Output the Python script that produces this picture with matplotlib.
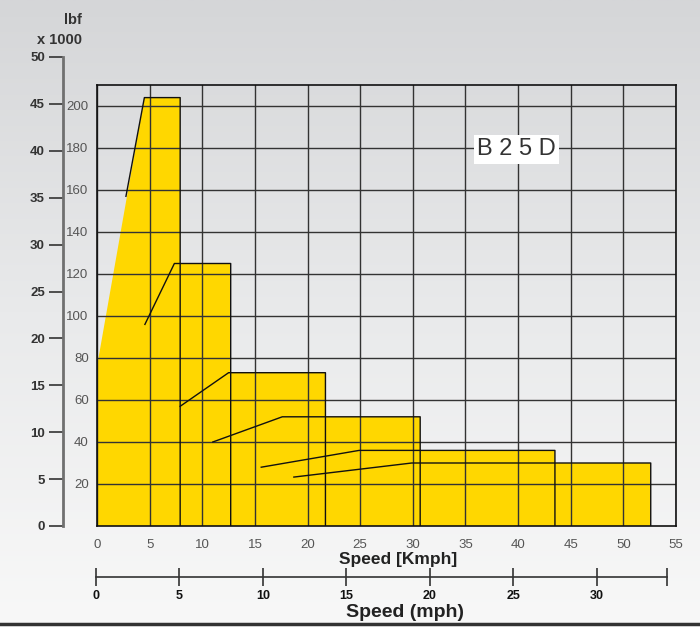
import numpy as np
import matplotlib.pyplot as plt
from matplotlib.lines import Line2D

W, H = 700, 641

# tractive effort per gear, kN against speed in km/h
gear_start_x = [2.75, 4.55, 7.9, 11.0, 15.6, 18.7]
gear_start_y = [157, 96, 57, 40, 28, 23.3]
gear_corner_x = [4.5, 7.35, 12.5, 17.6, 24.9, 29.9]
gear_top = [204, 125, 73, 52, 36, 30]
gear_end_x = [7.9, 12.7, 21.7, 30.7, 43.5, 52.6]
fill_axis_y = 76   # where the yellow area meets the y axis

kmph_ticks = list(range(0, 56, 5))
kn_ticks = list(range(20, 201, 20))
klbf_ticks = list(range(0, 51, 5))
mph_ticks = list(range(0, 31, 5))
mph_max = 34.2

yellow = '#ffd700'
narrow = ['Liberation Sans Narrow', 'Liberation Sans', 'DejaVu Sans']
plt.rcParams['font.family'] = ['Liberation Sans', 'DejaVu Sans']


def fx(px):
    return px / W


def fy(py):
    return 1 - py / H


fig = plt.figure(figsize=(W / 100, H / 100), dpi=100)

# background gradient
bg = fig.add_axes([0, 0, 1, 1], zorder=-10)
grad = np.linspace(0, 1, 256).reshape(-1, 1)
bg.imshow(grad, cmap=plt.matplotlib.colors.LinearSegmentedColormap.from_list(
    'bg', ['#d5d6d8', '#e9eaeb', '#f8f8f8']), aspect='auto',
    extent=[0, 1, fy(624), 1])
bg.set_xlim(0, 1)
bg.set_ylim(0, 1)
bg.axis('off')
fig.add_artist(Line2D([0, 1], [fy(624), fy(624)], transform=fig.transFigure,
                      color='#333333', lw=2.5))

# main chart (kN / km/h)
ax = fig.add_axes([fx(97), fy(526), fx(676 - 97), (526 - 85) / H])
ax.patch.set_alpha(0)
ax.set_xlim(0, 55)
ax.set_ylim(0, 210)

# yellow envelope
px = [0, 0]
py = [0, fill_axis_y]
for i in range(len(gear_top)):
    if i == 0:
        px += [gear_corner_x[i], gear_end_x[i]]
    else:
        px += [gear_end_x[i - 1], gear_end_x[i]]
    py += [gear_top[i], gear_top[i]]
px += [gear_end_x[-1]]
py += [0]
ax.fill(px, py, color=yellow, lw=0, zorder=1)

ax.set_xticks(kmph_ticks)
ax.set_yticks(kn_ticks)
ax.grid(True, color='#333333', lw=1.0, zorder=2)
ax.set_axisbelow(False)

for i in range(len(gear_top)):
    ax.plot([gear_start_x[i], gear_corner_x[i], gear_end_x[i], gear_end_x[i]],
            [gear_start_y[i], gear_top[i], gear_top[i], 0],
            color='#111111', lw=1.0, zorder=3)

for s in ax.spines.values():
    s.set_color('#111111')
    s.set_linewidth(1.2)
    s.set_zorder(4)
ax.tick_params(length=0, labelsize=9.5, colors='#555555')
ax.tick_params(axis='x', pad=9)
ax.tick_params(axis='y', pad=6)
for lab in ax.get_xticklabels() + ax.get_yticklabels():
    lab.set_family(narrow)
ax.set_xlabel('Speed [Kmph]', fontsize=12.5, color='#222222',
              weight='bold')
ax.xaxis.set_label_coords(fx(398.5), fy(552), transform=fig.transFigure)

ax.text(39.85, 179.3, 'B 2 5 D', ha='center', va='center', fontsize=17,
        color='#333333', zorder=5,
        bbox=dict(fc='white', ec='none', boxstyle='square,pad=0.15'))

# outer axis in lbf x 1000
ax2 = fig.add_axes([fx(63), fy(526), 0.0005, (526 - 57) / H])
ax2.patch.set_alpha(0)
ax2.set_ylim(0, 50)
ax2.set_yticks(klbf_ticks)
ax2.set_xticks([])
for k in ['top', 'right', 'bottom']:
    ax2.spines[k].set_visible(False)
ax2.spines['left'].set_color('#707070')
ax2.spines['left'].set_linewidth(2.0)
ax2.tick_params(axis='y', length=10, width=1.2, color='#333333',
                labelsize=9.5, labelcolor='#333333', pad=3)
for lab in ax2.get_yticklabels():
    lab.set_weight('bold')
fig.text(fx(82), fy(20), 'lbf', ha='right', va='center', fontsize=10.5,
         weight='bold', color='#333333')
fig.text(fx(82), fy(40), 'x 1000', ha='right', va='center', fontsize=10.5,
         weight='bold', color='#333333')

# mph scale
ax3 = fig.add_axes([fx(96), fy(577), fx(666.7 - 96), 0.0005])
ax3.patch.set_alpha(0)
ax3.set_xlim(0, mph_max)
ax3.set_yticks([])
for k in ['top', 'right', 'left']:
    ax3.spines[k].set_visible(False)
ax3.spines['bottom'].set_color('#333333')
ax3.spines['bottom'].set_linewidth(1.2)
ax3.set_xticks(mph_ticks + [mph_max])
ax3.set_xticklabels([str(t) for t in mph_ticks] + [''])
ax3.tick_params(axis='x', direction='inout', length=13, width=1.2,
                color='#333333', labelsize=9, labelcolor='#111111', pad=3)
for lab in ax3.get_xticklabels():
    lab.set_weight('bold')
ax3.set_xlabel('Speed (mph)', fontsize=14, weight='bold', color='#222222')
ax3.xaxis.set_label_coords(fx(405), fy(604), transform=fig.transFigure)

fig.savefig('out.png', dpi=100)
